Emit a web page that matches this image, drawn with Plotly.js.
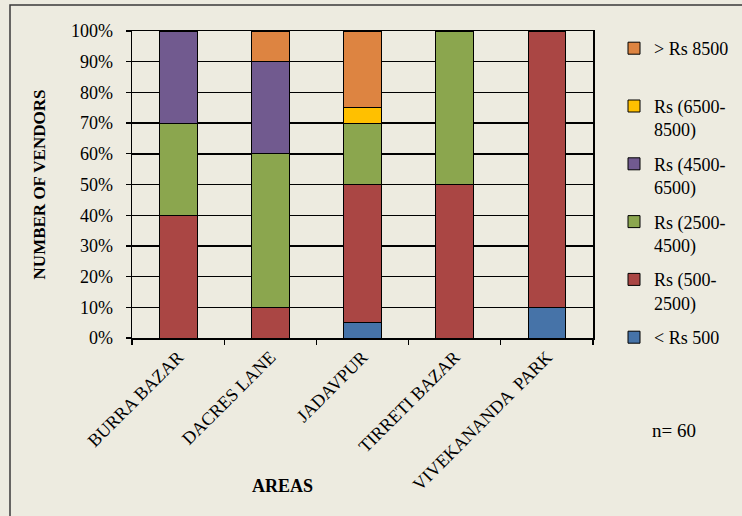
<!DOCTYPE html>
<html>
<head>
<meta charset="utf-8">
<script src="https://cdn.plot.ly/plotly-3.0.1.min.js"></script>
<style>
  html, body { margin: 0; padding: 0; background: #EDEBE0; }
  #chart { width: 742px; height: 516px; }
</style>
</head>
<body>
<div id="chart"></div>
<script>
// Areas surveyed
const areas = ['BURRA BAZAR', 'DACRES LANE', 'JADAVPUR', 'TIRRETI BAZAR', 'VIVEKANANDA  PARK'];

// Share of vendors (%) in each income band, per area
const below500   = [0, 0, 5, 0, 10];
const r500_2500  = [40, 10, 45, 50, 90];
const r2500_4500 = [30, 50, 20, 50, 0];
const r4500_6500 = [30, 30, 0, 0, 0];
const r6500_8500 = [0, 0, 5, 0, 0];
const above8500  = [0, 10, 25, 0, 0];

// Legend labels for the income bands
const bandNames = [
  '&lt; Rs 500',
  'Rs (500-<br>2500)',
  'Rs (2500-<br>4500)',
  'Rs (4500-<br>6500)',
  'Rs (6500-<br>8500)',
  '&gt; Rs 8500<br> '
];
const bandColors = ['#4673A8', '#AA4644', '#8BA64E', '#715A8F', '#FFC000', '#DD8441'];
const bandValues = [below500, r500_2500, r2500_4500, r4500_6500, r6500_8500, above8500];

// Y-axis tick values
const yTicks = [0, 10, 20, 30, 40, 50, 60, 70, 80, 90, 100];

const serif = 'Liberation Serif, Times New Roman, serif';

// Highest band is listed first in the legend
const traces = bandValues.map((vals, i) => ({
  type: 'bar',
  x: areas,
  y: vals,
  name: bandNames[i],
  legendgroup: 'g' + i,
  legendrank: bandValues.length - i,
  marker: { color: bandColors[i], line: { color: '#000000', width: 1 } },
  hoverinfo: 'x+y+name'
}));

// Plot-area geometry (pixels) used to place the frame and notes in paper units
const W = 742, H = 516;
const M = { l: 132, r: 149, t: 31, b: 178 };
const pw = W - M.l - M.r, ph = H - M.t - M.b;
const px = x => (x - M.l) / pw;
const py = y => (H - M.b - y) / ph;

const layout = {
  width: W,
  height: H,
  margin: M,
  paper_bgcolor: '#EDEBE0',
  plot_bgcolor: '#EDEBE0',
  barmode: 'stack',
  bargap: 0.59,
  font: { family: serif, size: 18, color: '#000000' },
  showlegend: true,
  legend: {
    xref: 'container', yref: 'container',
    x: 614 / W, xanchor: 'left',
    y: 1 - 30 / H, yanchor: 'top',
    traceorder: 'grouped',
    tracegroupgap: 8,
    valign: 'top',
    maxheight: 420,
    bgcolor: 'rgba(0,0,0,0)',
    font: { family: serif, size: 18, color: '#000000' }
  },
  xaxis: {
    type: 'category',
    tickangle: -45,
    ticks: 'outside',
    tickson: 'boundaries',
    ticklen: 5,
    tickcolor: '#000000',
    tickwidth: 1.3,
    showline: true,
    linecolor: '#000000',
    linewidth: 1.5,
    mirror: true,
    showgrid: false,
    tickfont: { family: serif, size: 18, color: '#000000' },
    automargin: false
  },
  yaxis: {
    range: [0, 100],
    tickvals: yTicks,
    ticktext: yTicks.map(v => v + '%'),
    ticks: 'outside',
    ticklen: 5,
    tickcolor: '#000000',
    tickwidth: 1.3,
    ticklabelstandoff: 9,
    showline: true,
    linecolor: '#000000',
    linewidth: 1.5,
    mirror: true,
    showgrid: true,
    gridcolor: '#000000',
    gridwidth: 1.4,
    zeroline: false,
    tickfont: { family: serif, size: 18, color: '#000000' },
    title: {
      text: '<b>NUMBER OF VENDORS</b>',
      font: { family: serif, size: 17, color: '#000000' },
      standoff: 21
    },
    automargin: false
  },
  annotations: [
    {
      text: '<b>AREAS</b>',
      xref: 'paper', yref: 'paper',
      x: px(282), y: py(486),
      xanchor: 'center', yanchor: 'middle',
      showarrow: false,
      font: { family: serif, size: 18, color: '#000000' }
    },
    {
      text: 'n= 60',
      xref: 'paper', yref: 'paper',
      x: px(674), y: py(430),
      xanchor: 'center', yanchor: 'middle',
      showarrow: false,
      font: { family: serif, size: 19, color: '#000000' }
    }
  ],
  shapes: [
    {
      // chart frame
      type: 'rect',
      xref: 'paper', yref: 'paper',
      x0: px(10), x1: px(W + 5),
      y0: py(H + 5), y1: py(5),
      line: { color: '#3A3A3A', width: 1.5 },
      fillcolor: 'rgba(0,0,0,0)',
      layer: 'below'
    }
  ]
};

Plotly.newPlot('chart', traces, layout, { displayModeBar: false, staticPlot: true });
</script>
</body>
</html>
